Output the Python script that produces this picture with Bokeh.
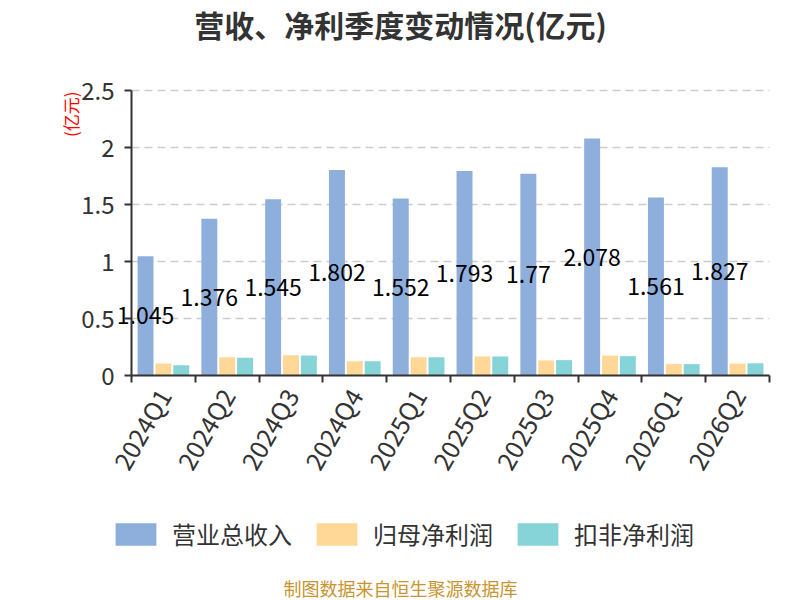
import numpy as np
from bokeh.plotting import figure
from bokeh.models import (ColumnDataSource, Range1d, FixedTicker, Legend, LegendItem, Label)
from bokeh.transform import dodge
from bokeh.core.properties import value
from bokeh.embed import file_html
from bokeh.resources import INLINE

# ---- data ----
quarters = ["2024Q1", "2024Q2", "2024Q3", "2024Q4", "2025Q1",
            "2025Q2", "2025Q3", "2025Q4", "2026Q1", "2026Q2"]
revenue = [1.045, 1.376, 1.545, 1.802, 1.552, 1.793, 1.77, 2.078, 1.561, 1.827]
net_profit = [0.105, 0.160, 0.178, 0.125, 0.160, 0.167, 0.132, 0.175, 0.102, 0.105]
deducted_profit = [0.090, 0.155, 0.175, 0.125, 0.160, 0.167, 0.135, 0.170, 0.100, 0.107]
series_names = ["营业总收入", "归母净利润", "扣非净利润"]
y_ticks = [0, 0.5, 1, 1.5, 2, 2.5]
y_tick_labels = ["0", "0.5", "1", "1.5", "2", "2.5"]

colors = ["#8eaedc", "#ffd897", "#87d4d8"]
FONT = "Noto Sans CJK SC"

n = len(quarters)
centers = np.arange(n) + 0.5
bounds = np.arange(n + 1)

# ---- canvas geometry (pixels) ----
W, H = 800, 600
PLOT_L, PLOT_R, PLOT_T, PLOT_B = 131, 769, 90, 375
px_per_x = (PLOT_R - PLOT_L) / n
px_per_y = (PLOT_B - PLOT_T) / (y_ticks[-1] - y_ticks[0])
x_range = Range1d(-PLOT_L / px_per_x, n + (W - PLOT_R) / px_per_x)
y_range = Range1d(y_ticks[0] - (H - PLOT_B) / px_per_y, y_ticks[-1] + PLOT_T / px_per_y)

src = ColumnDataSource(dict(
    x=centers,
    revenue=revenue,
    net=net_profit,
    ded=deducted_profit,
    mid=np.array(revenue) / 2.0,
    label=[str(v) for v in revenue],
))

p = figure(width=W, height=H, output_backend="svg", toolbar_location=None,
           x_range=x_range, y_range=y_range,
           min_border=0, min_border_left=0, min_border_right=0,
           min_border_top=0, min_border_bottom=0)
p.outline_line_color = None
p.background_fill_color = "white"
p.border_fill_color = "white"

off = 0.28
w = 0.25
r1 = p.vbar(x=dodge("x", -off), top="revenue", width=w, source=src,
            fill_color=colors[0], line_color=None)
r2 = p.vbar(x=dodge("x", 0.0), top="net", width=w, source=src,
            fill_color=colors[1], line_color=None)
r3 = p.vbar(x=dodge("x", off), top="ded", width=w, source=src,
            fill_color=colors[2], line_color=None)

p.text(x=dodge("x", -off), y="mid", text="label", source=src,
       text_align="center", text_baseline="middle",
       text_font=value(FONT), text_font_size="23px", text_color="#000000")

# x axis (drawn at y = 0)
xa = p.xaxis[0]
xa.fixed_location = 0
xa.bounds = (0, n)
xa.ticker = FixedTicker(ticks=list(centers), minor_ticks=list(bounds))
xa.major_label_overrides = {float(c): q for c, q in zip(centers, quarters)}
xa.major_tick_line_color = None
xa.major_tick_in = 0
xa.major_tick_out = 7
xa.minor_tick_in = 0
xa.minor_tick_out = 7
xa.minor_tick_line_color = "#333333"
xa.minor_tick_line_width = 2
xa.axis_line_color = "#333333"
xa.axis_line_width = 2
xa.major_label_orientation = np.deg2rad(60)
xa.major_label_standoff = 8
xa.major_label_text_font = FONT
xa.major_label_text_font_size = "25px"
xa.major_label_text_color = "#333333"

# y axis (drawn at x = 0)
ya = p.yaxis[0]
ya.fixed_location = 0
ya.bounds = (y_ticks[0], y_ticks[-1])
ya.ticker = FixedTicker(ticks=y_ticks)
ya.major_label_overrides = {float(t): s for t, s in zip(y_ticks, y_tick_labels)}
ya.minor_tick_line_color = None
ya.major_tick_in = 0
ya.major_tick_out = 7
ya.major_tick_line_color = "#333333"
ya.major_tick_line_width = 2
ya.axis_line_color = "#333333"
ya.axis_line_width = 2
ya.major_label_standoff = 10
ya.major_label_text_font = FONT
ya.major_label_text_font_size = "24px"
ya.major_label_text_color = "#333333"

p.xgrid.grid_line_color = None
p.ygrid.ticker = FixedTicker(ticks=y_ticks[1:])
p.ygrid.cross_bounds = (0, n)
p.ygrid.grid_line_color = "#cccccc"
p.ygrid.grid_line_width = 1.5
p.ygrid.grid_line_dash = "8 5"

# texts (screen units from the canvas bottom-left)
p.add_layout(Label(x=400, y=H - 23, x_units="screen", y_units="screen",
                   text="营收、净利季度变动情况(亿元)", text_align="center",
                   text_baseline="middle", text_font=FONT, text_font_size="30px",
                   text_font_style="bold", text_color="#333333"))

p.add_layout(Label(x=70, y=H - 91, x_units="screen", y_units="screen",
                   text="(亿元)", angle=np.pi / 2, text_align="right",
                   text_baseline="middle", text_font=FONT, text_font_size="17px",
                   text_color="#ff0000"))

p.add_layout(Label(x=400, y=H - 587, x_units="screen", y_units="screen",
                   text="制图数据来自恒生聚源数据库", text_align="center",
                   text_baseline="middle", text_font=FONT, text_font_size="18px",
                   text_color="#c8952f"))

legend = Legend(
    items=[LegendItem(label=nm, renderers=[r]) for nm, r in zip(series_names, [r1, r2, r3])],
    orientation="horizontal", location=(110, H - 551),
    glyph_width=51, glyph_height=28, label_height=28, label_standoff=11,
    spacing=19, padding=0, margin=0,
    border_line_color=None, background_fill_alpha=0,
    label_text_font=FONT, label_text_font_size="24px", label_text_color="#333333",
    label_text_baseline="middle",
)
p.add_layout(legend)

open("out.html", "w").write(file_html(p, INLINE))
